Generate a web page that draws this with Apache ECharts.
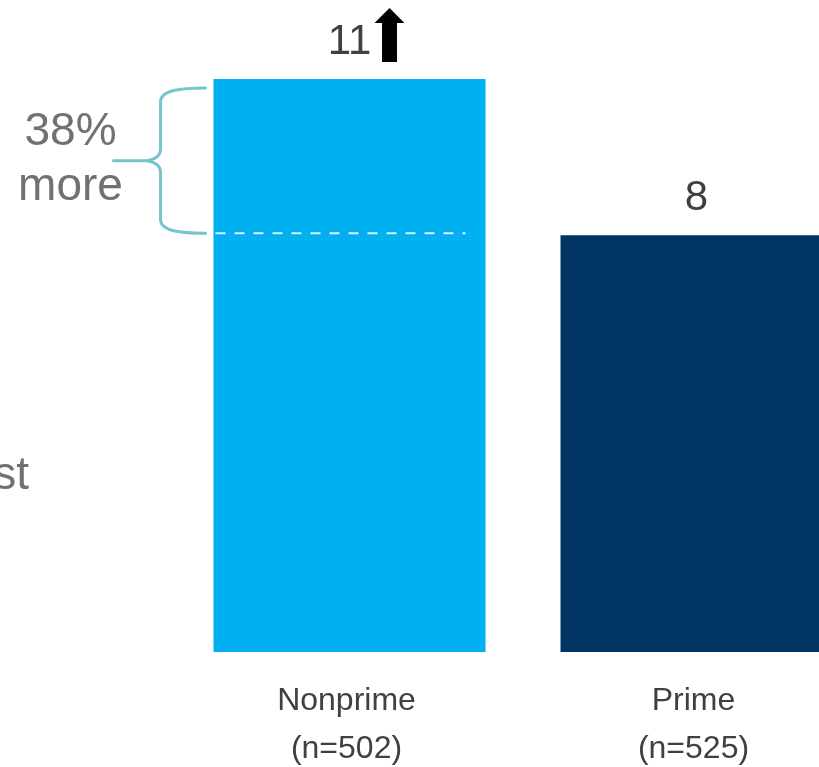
<!DOCTYPE html>
<html>
<head>
<meta charset="utf-8">
<script src="https://cdn.jsdelivr.net/npm/echarts@6/dist/echarts.min.js"></script>
<style>
  html, body { margin: 0; padding: 0; background: #ffffff; }
  #chart { width: 819px; height: 767px; }
</style>
</head>
<body>
<div id="chart"></div>
<script>
// Groups, sample sizes and values
const groups = ['Nonprime', 'Prime'];
const sampleSizes = [502, 525];
const values = [11, 8];
const barColors = ['#00B0F0', '#003462'];
// Annotation text for the gap between the two bars
const gapLabel = ['38%', 'more'];
const sideText = 'st';

const FONT = '"Liberation Sans", Arial, Helvetica, sans-serif';
const BAR_W = 272;
const BRACE_COLOR = '#74C5CF';

const chart = echarts.init(document.getElementById('chart'), null, { renderer: 'canvas' });

// Dashed reference line, brace, gap text and arrow, placed from the axis scales
function renderNotes(params, api) {
  const top = api.coord([api.value(0), api.value(1)]);
  const ref = api.coord([api.value(0), api.value(2)]);
  const cx = top[0];
  const left = cx - BAR_W / 2;
  const right = cx + BAR_W / 2;
  const refY = ref[1] - 2;

  const R = left - 8;
  const V = left - 53;
  const T = left - 100;
  const Y1 = top[1] + 9;
  const Y2 = refY;
  const M = (Y1 + Y2) / 2;

  const brace =
    'M' + R + ',' + Y1 +
    ' C' + (V + 20) + ',' + (Y1) + ' ' + V + ',' + (Y1 + 2) + ' ' + V + ',' + (Y1 + 14) +
    ' L' + V + ',' + (M - 12) +
    ' Q' + V + ',' + (M - 1) + ' ' + (V - 16) + ',' + M +
    ' L' + T + ',' + M +
    ' M' + (V - 16) + ',' + M +
    ' Q' + V + ',' + (M + 1) + ' ' + V + ',' + (M + 12) +
    ' L' + V + ',' + (Y2 - 14) +
    ' C' + V + ',' + (Y2 - 2) + ' ' + (V + 20) + ',' + Y2 + ' ' + R + ',' + Y2;

  const ax = cx + 40;
  const arrow = [
    [ax, top[1] - 71],
    [ax + 15, top[1] - 56],
    [ax + 7.5, top[1] - 56],
    [ax + 7.5, top[1] - 17],
    [ax - 7.5, top[1] - 17],
    [ax - 7.5, top[1] - 56],
    [ax - 15, top[1] - 56]
  ];

  return {
    type: 'group',
    children: [
      {
        type: 'line',
        shape: { x1: left + 2, y1: refY, x2: right - 20, y2: refY },
        style: { stroke: 'rgba(255,255,255,0.85)', lineWidth: 2, lineDash: [10, 9] }
      },
      {
        type: 'path',
        shape: { pathData: brace },
        style: { stroke: BRACE_COLOR, lineWidth: 3, fill: null, lineCap: 'round' }
      },
      {
        type: 'text',
        x: T - 43,
        y: M - 1,
        style: {
          text: gapLabel.join('\n'),
          fontFamily: FONT,
          fontSize: 46,
          lineHeight: 55,
          fill: '#717171',
          align: 'center',
          verticalAlign: 'middle'
        }
      },
      {
        type: 'polygon',
        shape: { points: arrow },
        style: { fill: '#000000' }
      }
    ]
  };
}

chart.setOption({
  animation: false,
  backgroundColor: '#ffffff',
  grid: {
    left: 176,
    right: -51,
    top: 79,
    bottom: 115,
    containLabel: false,
    outerBoundsMode: 'none'
  },
  xAxis: {
    type: 'category',
    data: groups.map((g, i) => g + '\n(n=' + sampleSizes[i] + ')'),
    axisLine: { show: false },
    axisTick: { show: false },
    splitLine: { show: false },
    axisLabel: {
      fontFamily: FONT,
      fontSize: 32,
      lineHeight: 48,
      color: '#404040',
      margin: 25,
      padding: [0, 6, 0, 0],
      interval: 0
    }
  },
  yAxis: {
    type: 'value',
    min: 0,
    max: 11,
    show: false,
    splitLine: { show: false }
  },
  graphic: [
    {
      type: 'text',
      x: 29,
      y: 476,
      style: {
        text: sideText,
        fontFamily: FONT,
        fontSize: 46,
        fill: '#717171',
        align: 'right',
        verticalAlign: 'middle'
      }
    }
  ],
  series: [
    {
      type: 'bar',
      barWidth: BAR_W,
      data: values.map((v, i) => ({ value: v, itemStyle: { color: barColors[i] } })),
      label: {
        show: true,
        position: 'top',
        distance: 16,
        fontFamily: FONT,
        fontSize: 42,
        color: '#404040'
      }
    },
    {
      type: 'custom',
      renderItem: renderNotes,
      silent: true,
      z: 5,
      data: [[0, values[0], values[1]]]
    }
  ]
});
</script>
</body>
</html>
